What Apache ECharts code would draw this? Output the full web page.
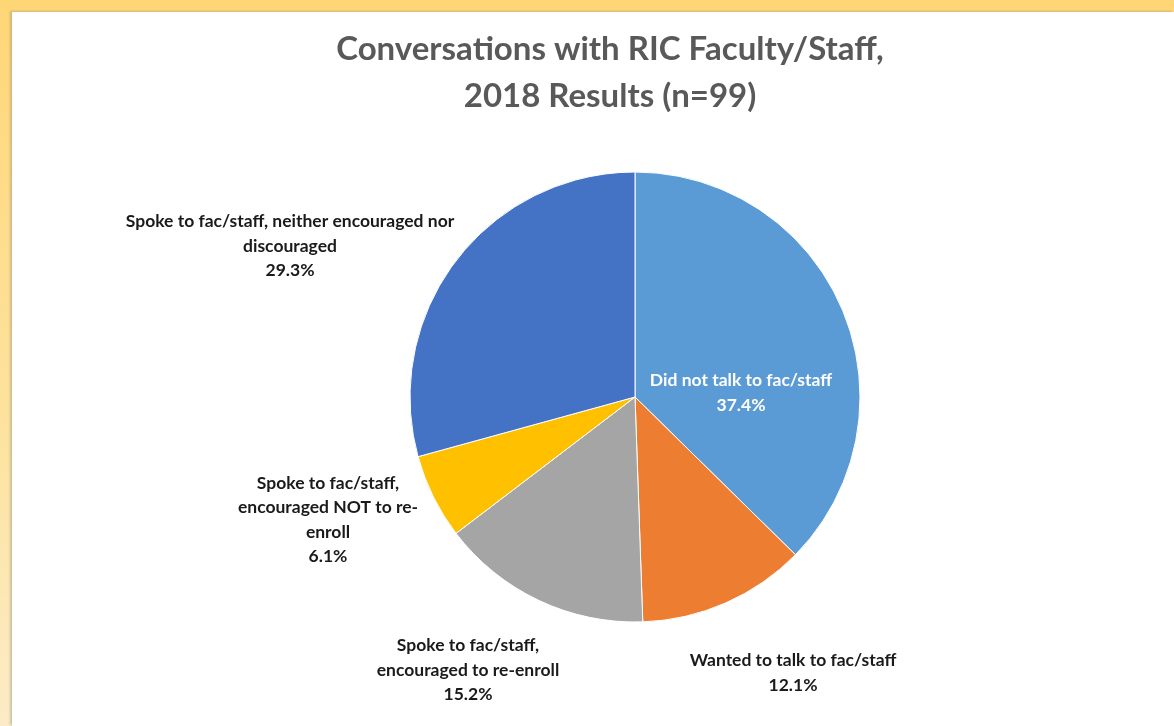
<!DOCTYPE html>
<html>
<head>
<meta charset="utf-8">
<script src="https://cdn.jsdelivr.net/npm/echarts@6/dist/echarts.min.js"></script>
<style>
  html, body { margin: 0; padding: 0; width: 1174px; height: 726px; overflow: hidden; }
  body { background: linear-gradient(to bottom, #FFD676 0%, #FDE3A0 60%, #FCEBC6 100%); position: relative; }
  #panel { position: absolute; left: 12px; top: 12px; right: 0; bottom: 0; background: #ffffff;
           box-shadow: -2px -1px 2px rgba(120,120,120,0.35); }
  #chart { position: absolute; left: 0; top: 0; width: 1174px; height: 726px; }
</style>
</head>
<body>
<div id="panel"></div>
<div id="chart"></div>
<script>
// ---- data ----
const titleText = 'Conversations with RIC Faculty/Staff,\n2018 Results (n=99)';
const categories = [
  'Did not talk to fac/staff',
  'Wanted to talk to fac/staff',
  'Spoke to fac/staff,\nencouraged to re-enroll',
  'Spoke to fac/staff,\nencouraged NOT to re-\nenroll',
  'Spoke to fac/staff, neither encouraged nor\ndiscouraged'
];
const percents = [37.4, 12.1, 15.2, 6.1, 29.3];

// ---- styling / layout (not data) ----
const colors = ['#5B9BD5', '#ED7D31', '#A5A5A5', '#FFC000', '#4472C4'];
const labelCenters = [[741, 393], [793, 673], [468, 670], [328, 520], [290, 246]];
const labelColors = ['#ffffff', '#1a1a1a', '#1a1a1a', '#1a1a1a', '#1a1a1a'];

const chart = echarts.init(document.getElementById('chart'), null, { renderer: 'canvas' });
chart.setOption({
  backgroundColor: 'transparent',
  animation: false,
  title: {
    text: titleText,
    left: 605, top: 21, textAlign: 'center',
    textStyle: { fontFamily: 'Lato', fontWeight: 'bold', fontSize: 33, color: '#595959', lineHeight: 47 }
  },
  series: [{
    type: 'pie',
    center: [635, 397],
    radius: [0, 225],
    startAngle: 90,
    clockwise: true,
    avoidLabelOverlap: false,
    itemStyle: { borderColor: '#ffffff', borderWidth: 1 },
    labelLine: { show: false },
    label: {
      show: true,
      position: 'outside',
      formatter: p => p.name + '\n' + p.value.toFixed(1) + '%',
      fontFamily: 'Lato', fontWeight: 'bold', fontSize: 17.5, lineHeight: 24.5,
      align: 'center'
    },
    labelLayout: p => ({
      x: labelCenters[p.dataIndex][0],
      y: labelCenters[p.dataIndex][1],
      align: 'center',
      verticalAlign: 'middle',
      hideOverlap: false
    }),
    data: categories.map((c, i) => ({
      name: c, value: percents[i],
      itemStyle: { color: colors[i] },
      label: { color: labelColors[i] }
    }))
  }]
});
</script>
</body>
</html>
